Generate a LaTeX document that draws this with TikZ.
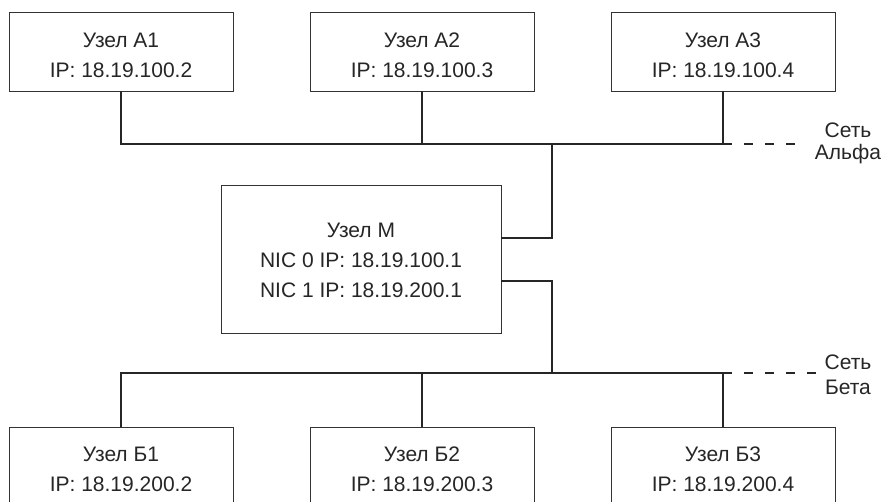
\documentclass[tikz,border=0pt]{standalone}
\usepackage{fontspec}
\setmainfont{Liberation Sans}
\begin{document}
\begin{tikzpicture}[x=1pt,y=-1pt,
  hostbox/.style={draw=black!80, line width=0.9pt, minimum width=224pt, minimum height=79pt, inner sep=0pt},
  hosttext/.style={align=center, font=\fontsize{21}{30}\selectfont, text=black!85, inner sep=0pt},
  bus/.style={line width=2.2pt, black!85},
  ext/.style={line width=2pt, black!85, dash pattern=on 9pt off 12pt},
  netlbl/.style={align=center, font=\fontsize{21}{22}\selectfont, text=black!85, inner sep=0pt}]
\clip (0,0) rectangle (883,501);
\fill[white] (0,0) rectangle (883,501);
% top hosts
\node[hostbox] (A1) at (121,51.5) {};
\node[hostbox] (A2) at (422,51.5) {};
\node[hostbox] (A3) at (723,51.5) {};
\node[hosttext] (A1t) at ([yshift=-3.5pt]A1.center) {Узел А1\\IP: 18.19.100.2};
\node[hosttext] (A2t) at ([yshift=-3.5pt]A2.center) {Узел А2\\IP: 18.19.100.3};
\node[hosttext] (A3t) at ([yshift=-3.5pt]A3.center) {Узел А3\\IP: 18.19.100.4};
% middle host
\node[hostbox, minimum width=280pt, minimum height=148pt] (M) at (361,259) {};
\node[hosttext] (Mt) at ([yshift=-1.5pt]M.center) {Узел М\\NIC 0 IP: 18.19.100.1\\NIC 1 IP: 18.19.200.1};
% bottom hosts
\node[hostbox] (B1) at (121,466.5) {};
\node[hostbox] (B2) at (422,466.5) {};
\node[hostbox] (B3) at (723,466.5) {};
\node[hosttext] (B1t) at ([yshift=-2.5pt]B1.center) {Узел Б1\\IP: 18.19.200.2};
\node[hosttext] (B2t) at ([yshift=-2.5pt]B2.center) {Узел Б2\\IP: 18.19.200.3};
\node[hosttext] (B3t) at ([yshift=-2.5pt]B3.center) {Узел Б3\\IP: 18.19.200.4};
% bus coordinates
\coordinate (aL) at (121,144);
\coordinate (aJ) at (552,144);
\coordinate (aEnd) at (800,144);
\coordinate (bL) at (121,373);
\coordinate (bJ) at (552,373);
\coordinate (bEnd) at (817,373);
% alpha network
\draw[bus] (A1.south) -- (aL) -- (A3.south |- aL) -- (A3.south);
\draw[bus] (A2.south) -- (A2.south |- aL);
\draw[bus] ([yshift=21pt]M.east) -| (aJ);
\draw[ext] (A3.south |- aL) -- (aEnd);
\node[netlbl] (alpha) at (848,143) {Сеть\\Альфа};
% beta network
\draw[bus] (B1.north) -- (bL) -- (B3.north |- bL) -- (B3.north);
\draw[bus] (B2.north) -- (B2.north |- bL);
\draw[bus] ([yshift=-22pt]M.east) -| (bJ);
\draw[ext] (B3.north |- bL) -- (bEnd);
\node[netlbl, font=\fontsize{21}{25}\selectfont] (beta) at (848,375) {Сеть\\Бета};
\end{tikzpicture}
\end{document}
